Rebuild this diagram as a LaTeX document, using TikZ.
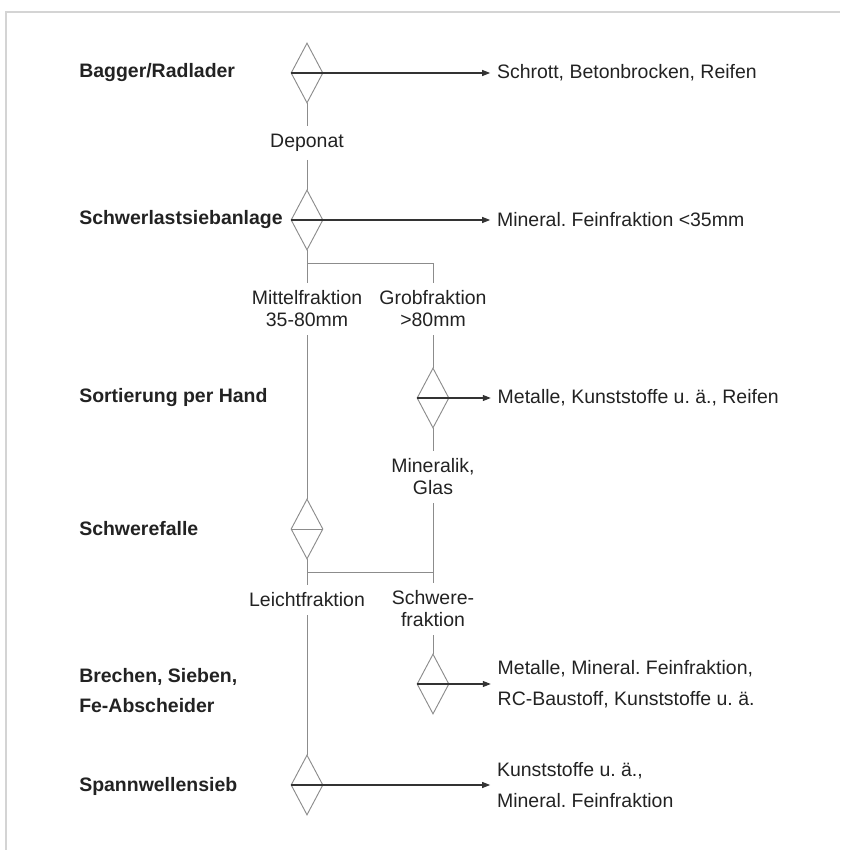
\documentclass[tikz,border=0pt]{standalone}
\usepackage{fontspec}
\setmainfont{Liberation Sans}
\usetikzlibrary{arrows.meta,positioning,shapes.geometric}
\definecolor{linegray}{HTML}{8C8C8C}
\definecolor{arrowink}{HTML}{333333}
\definecolor{textink}{HTML}{222222}
\definecolor{framegray}{HTML}{D4D4D4}
\tikzset{
  sieve/.style={
    diamond, draw=linegray, line width=0.7pt,
    minimum width=24pt, minimum height=45pt, inner sep=0pt
  },
  flowline/.style={draw=linegray, line width=0.7pt},
  outarrow/.style={-{Triangle[length=6pt,width=4.5pt]}, line width=0.8pt, color=arrowink},
  stagelabel/.style={
    anchor=west, inner sep=0pt, align=left, text=textink,
    font=\bfseries\fontsize{14.6}{22.5}\selectfont
  },
  fraclabel/.style={
    inner sep=6pt, align=center, text=textink,
    font=\fontsize{14.6}{16.5}\selectfont
  },
  outlabel/.style={
    inner sep=5pt, align=left, text=textink,
    font=\fontsize{14.6}{23}\selectfont
  },
}
\frenchspacing
\begin{document}
\begin{tikzpicture}[x=0.75pt, y=-0.75pt]
  \useasboundingbox (0,0) rectangle (840,850);
  \draw[framegray, line width=0.8pt] (6,850) -- (6,12) -- (840,12);

  % stages on the left
  \node[stagelabel] (bagger) at (79,73) {Bagger/Radlader};
  \node[stagelabel] (schwerlast) at (79,220) {Schwerlastsiebanlage};
  \node[stagelabel] (hand) at (79,398) {Sortierung per Hand};
  \node[stagelabel] (falle) at (79,529) {Schwerefalle};
  \node[stagelabel] (brechen) at (79,691) {Brechen, Sieben,\\Fe-Abscheider};
  \node[stagelabel] (spann) at (79,786) {Spannwellensieb};

  % sieves
  \node[sieve] (d1) at (307,73) {};
  \node[sieve] (d2) at (307,220) {};
  \node[sieve] (d3) at (433,398) {};
  \node[sieve] (d4) at (307,529) {};
  \node[sieve] (d5) at (433,684) {};
  \node[sieve] (d6) at (307,785) {};

  % fractions
  \node[fraclabel] (deponat) at (307,143) {Deponat};
  \node[fraclabel] (mittel) at (307,309) {Mittelfraktion\\35-80mm};
  \node[fraclabel] (grob) at (433,309) {Grobfraktion\\>80mm};
  \node[fraclabel] (mineralik) at (433,477) {Mineralik,\\Glas};
  \node[fraclabel] (leicht) at (307,600) {Leichtfraktion};
  \node[fraclabel] (schwere) at (433,609) {Schwere-\\fraktion};

  % outputs
  \node[outlabel, right=125pt of d1.east] (out1) {Schrott, Betonbrocken, Reifen};
  \node[outlabel, right=125pt of d2.east] (out2) {Mineral. Feinfraktion <35mm};
  \node[outlabel, right=31pt of d3.east] (out3) {Metalle, Kunststoffe u. ä., Reifen};
  \node[outlabel, right=31pt of d5.east] (out5) {Metalle, Mineral. Feinfraktion,\\RC-Baustoff, Kunststoffe u. ä.};
  \node[outlabel, right=125pt of d6.east] (out6) {Kunststoffe u. ä.,\\Mineral. Feinfraktion};

  \coordinate[below=10pt of d2.south] (s1);
  \coordinate[below=10pt of d4.south] (s2);

  \draw[flowline] (d1.south) -- (deponat.north);
  \draw[flowline] (deponat.south) -- (d2.north);
  \draw[flowline] (d2.south) -- (mittel.north);
  \draw[flowline] (s1) -| (grob.north);
  \draw[flowline] (grob.south) -- (d3.north);
  \draw[flowline] (d3.south) -- (mineralik.north);
  \draw[flowline] (mittel.south) -- (d4.north);
  \draw[flowline] (d4.west) -- (d4.east);
  \draw[flowline] (d4.south) -- (leicht.north);
  \draw[flowline] (mineralik.south) -- (schwere.north);
  \draw[flowline] (s2) -- (s2 -| schwere.north);
  \draw[flowline] (schwere.south) -- (d5.north);
  \draw[flowline] (leicht.south) -- (d6.north);

  \draw[outarrow] (d1.west) -- (out1.west);
  \draw[outarrow] (d2.west) -- (out2.west);
  \draw[outarrow] (d3.west) -- (out3.west);
  \draw[outarrow] (d5.west) -- (out5.west);
  \draw[outarrow] (d6.west) -- (out6.west);
\end{tikzpicture}
\end{document}
